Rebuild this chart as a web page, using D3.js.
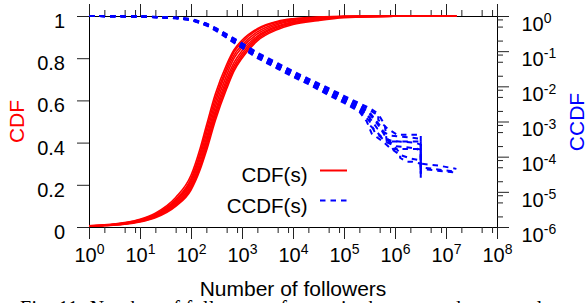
<!DOCTYPE html>
<html><head><meta charset="utf-8">
<script src="https://cdn.jsdelivr.net/npm/d3@7"></script>
<style>
body{margin:0;background:#fff;}
text{font-family:"Liberation Sans",Arial,Helvetica,sans-serif;}
.cap{font-family:"Liberation Serif","Times New Roman",serif;}
</style>
</head><body>
<svg id="c" width="585" height="303"></svg>
<script>
// ---------- tick labels ----------
const xMajor = [1, 1e1, 1e2, 1e3, 1e4, 1e5, 1e6, 1e7, 1e8];
const xMajorExp = ["0", "1", "2", "3", "4", "5", "6", "7", "8"];
const yLeftTicks = [0, 0.2, 0.4, 0.6, 0.8, 1];
const yLeftLabels = ["0", "0.2", "0.4", "0.6", "0.8", "1"];
const yRightMajor = [1, 1e-1, 1e-2, 1e-3, 1e-4, 1e-5, 1e-6];
const yRightExp = ["0", "-1", "-2", "-3", "-4", "-5", "-6"];
const minorMultipliers = [2, 5, 8];
const legendLabels = ["CDF(s)", "CCDF(s)"];

// ---------- CDF series (red) ----------
const cdfFollowers = [1, 2, 5, 10, 20, 50, 100, 150, 200, 300, 500, 700, 1000, 2000, 5000, 1e4, 3e4, 1e5, 1e6, 1.6e7];
const cdfSeries = [
  [0.006, 0.010, 0.021, 0.037, 0.066, 0.140, 0.245, 0.370, 0.480, 0.630, 0.770, 0.840, 0.885, 0.940, 0.975, 0.987, 0.995, 0.998, 0.9997, 1],
  [0.006, 0.009, 0.019, 0.034, 0.061, 0.130, 0.230, 0.350, 0.460, 0.610, 0.755, 0.830, 0.875, 0.935, 0.972, 0.985, 0.994, 0.998, 0.9996, 1],
  [0.005, 0.009, 0.018, 0.032, 0.058, 0.125, 0.220, 0.335, 0.440, 0.590, 0.740, 0.815, 0.862, 0.925, 0.966, 0.982, 0.992, 0.997, 0.9995, 1],
  [0.005, 0.008, 0.017, 0.030, 0.055, 0.120, 0.210, 0.320, 0.420, 0.570, 0.720, 0.800, 0.850, 0.915, 0.960, 0.978, 0.990, 0.997, 0.9995, 1],
  [0.005, 0.008, 0.016, 0.029, 0.052, 0.114, 0.200, 0.305, 0.405, 0.550, 0.700, 0.780, 0.835, 0.905, 0.953, 0.973, 0.987, 0.996, 0.9994, 1],
  [0.004, 0.007, 0.015, 0.027, 0.049, 0.108, 0.190, 0.290, 0.390, 0.535, 0.685, 0.765, 0.822, 0.898, 0.948, 0.969, 0.985, 0.995, 0.9993, 1],
  [0.004, 0.007, 0.014, 0.026, 0.047, 0.103, 0.182, 0.280, 0.375, 0.520, 0.670, 0.752, 0.810, 0.890, 0.942, 0.965, 0.982, 0.994, 0.9992, 1],
  [0.004, 0.006, 0.013, 0.024, 0.044, 0.098, 0.175, 0.270, 0.360, 0.505, 0.655, 0.740, 0.800, 0.882, 0.936, 0.960, 0.978, 0.992, 0.999, 1]
];

// ---------- CCDF series (blue, dashed) ----------
const ccdfFollowers = [1, 10, 50, 100, 200, 316, 600, 1000, 2000, 5000, 1e4, 2e4, 5e4, 1e5, 2e5];
const ccdfBulk = [
  [1, .977, .902, .822, .617, .447, .263, .170, .0912, .0457, .0269, .0166, .00891, .00537, .00331],
  [1, .975, .895, .814, .604, .435, .252, .162, .0863, .0433, .0255, .0157, .00832, .00501, .00305],
  [1, .973, .889, .805, .592, .423, .242, .154, .0817, .0409, .0241, .0149, .00776, .00468, .00281],
  [1, .971, .884, .798, .581, .413, .234, .148, .0780, .0391, .0230, .0142, .00733, .00442, .00262],
  [1, .969, .878, .790, .569, .402, .224, .141, .0738, .0370, .0218, .0134, .00684, .00412, .00241],
  [1, .968, .873, .783, .560, .393, .217, .136, .0705, .0353, .0208, .0128, .00646, .00389, .00225],
  [1, .966, .867, .775, .548, .382, .208, .129, .0667, .0334, .0197, .0121, .00603, .00363, .00207],
  [1, .964, .861, .767, .537, .372, .200, .123, .0631, .0316, .0186, .0115, .00562, .00339, .00191]
];
const ccdfTails = [
  [[3.2e5, 2.4e-3], [4.7e5, 1.66e-3], [4.7e5, 1.12e-3], [7.1e5, 6.3e-4], [1.1e6, 4.2e-4], [3.2e6, 4.2e-4], [3.2e6, 2.5e-5]],
  [[3.2e5, 2.1e-3], [5e5, 1.4e-3], [6.3e5, 8e-4], [6.9e5, 2.7e-4], [3.2e6, 2.7e-4], [3.2e6, 6.3e-5], [7.1e6, 5.6e-5], [1.6e7, 4.5e-5]],
  [[3.2e5, 1.8e-3], [5e5, 7.9e-4], [9.1e5, 1.66e-4], [2.7e6, 1.66e-4], [3.2e6, 1.26e-4], [3.2e6, 4.5e-5], [1.6e7, 3.5e-5]],
  [[3.2e5, 1.6e-3], [4.7e5, 7.9e-4], [6.3e5, 4e-4], [1.26e6, 1.26e-4], [1.26e6, 9.3e-5], [1.7e6, 7.2e-5], [2.2e6, 7.2e-5], [3.2e6, 6.3e-5], [3.2e6, 3.2e-5]],
  [[2.8e5, 1.6e-3], [3.2e5, 1.26e-3], [3.2e5, 7.9e-4], [5.6e5, 3.5e-4], [8.9e5, 2.8e-4], [2.5e6, 2.5e-4], [3.2e6, 2.2e-4], [3.2e6, 5e-5], [1.4e7, 3.8e-5]],
  [[3.2e5, 1.26e-3], [4.5e5, 6.3e-4], [7.9e5, 4e-4], [2e6, 3.5e-4], [3.2e6, 3.2e-4], [3.2e6, 4e-5]],
  [[3.2e5, 1e-3], [4e5, 5e-4], [7.1e5, 2.5e-4], [1e6, 2e-4], [2e6, 1.8e-4], [3.2e6, 1.6e-4], [3.2e6, 3.2e-5]],
  [[2.8e5, 1e-3], [3.5e5, 4.5e-4], [5.6e5, 2.8e-4], [7.9e5, 1.8e-4], [1.26e6, 1.12e-4], [2e6, 8.9e-5], [3.2e6, 7.9e-5], [3.2e6, 2.5e-5]]
];

// ---------- layout ----------
const L = 89, R = 497, T = 16, B = 227;
const svg = d3.select("#c");
const x = d3.scaleLog().domain([1, 1e8]).range([L, R]);
const yL = d3.scaleLinear().domain([0, 1]).range([B, T]);
const yR = d3.scaleLog().domain([1e-6, 1]).range([B, T]);

const xMinor = [];
xMajor.slice(0, -1).forEach(d => minorMultipliers.forEach(m => xMinor.push(d * m)));
const yMinor = [];
yRightMajor.slice(1).forEach(d => minorMultipliers.forEach(m => yMinor.push(d * m)));

function styleAxis(g, keepDomain) {
  g.selectAll("text").remove();
  if (!keepDomain) g.select(".domain").remove();
  g.select(".domain").attr("stroke", "#000").attr("stroke-width", 1);
  g.selectAll(".tick line").attr("stroke", "#222").attr("stroke-width", 1);
}
// bottom
svg.append("g").attr("transform", `translate(0,${B})`)
  .call(d3.axisBottom(x).tickValues(xMajor).tickSize(12).tickSizeOuter(0).tickFormat(""))
  .call(g => styleAxis(g, true));
svg.append("g").attr("transform", `translate(0,${B})`)
  .call(d3.axisBottom(x).tickValues(xMinor).tickSize(6).tickSizeOuter(0).tickFormat(""))
  .call(g => styleAxis(g, false));
// top
svg.append("g").attr("transform", `translate(0,${T})`)
  .call(d3.axisTop(x).tickValues(xMajor).tickSize(12).tickSizeOuter(0).tickFormat(""))
  .call(g => styleAxis(g, true));
svg.append("g").attr("transform", `translate(0,${T})`)
  .call(d3.axisTop(x).tickValues(xMinor).tickSize(6).tickSizeOuter(0).tickFormat(""))
  .call(g => styleAxis(g, false));
// left
svg.append("g").attr("transform", `translate(${L},0)`)
  .call(d3.axisLeft(yL).tickValues(yLeftTicks).tickSize(12).tickSizeOuter(0).tickFormat(""))
  .call(g => styleAxis(g, true));
// right
svg.append("g").attr("transform", `translate(${R},0)`)
  .call(d3.axisRight(yR).tickValues(yRightMajor).tickSize(12).tickSizeOuter(0).tickFormat(""))
  .call(g => styleAxis(g, true));
svg.append("g").attr("transform", `translate(${R},0)`)
  .call(d3.axisRight(yR).tickValues(yMinor).tickSize(6).tickSizeOuter(0).tickFormat(""))
  .call(g => styleAxis(g, false));

// tick labels
const fs = 20, sfs = 14;
xMajor.forEach((v, i) => {
  const t = svg.append("text").attr("x", x(v) + 0.5).attr("y", B + 34.7)
    .attr("text-anchor", "middle").attr("font-size", fs).attr("fill", "#000");
  t.append("tspan").text("10");
  t.append("tspan").attr("dy", -7.6).attr("font-size", sfs).text(xMajorExp[i]);
});
yLeftTicks.forEach((v, i) => {
  svg.append("text").attr("x", 65).attr("y", yL(v) + 12)
    .attr("text-anchor", "end").attr("font-size", fs).attr("fill", "#000").text(yLeftLabels[i]);
});
yRightMajor.forEach((v, i) => {
  const t = svg.append("text").attr("x", 521.5).attr("y", yR(v) + 14.8)
    .attr("text-anchor", "start").attr("font-size", fs).attr("fill", "#000");
  t.append("tspan").text("10");
  t.append("tspan").attr("dy", -7.6).attr("font-size", sfs).text(yRightExp[i]);
});

// axis titles
svg.append("text").attr("x", 293).attr("y", 295.5).attr("text-anchor", "middle")
  .attr("font-size", 21).attr("fill", "#000").text("Number of followers");
svg.append("text").attr("transform", "translate(24,121.5) rotate(-90)").attr("text-anchor", "middle")
  .attr("font-size", 21).attr("fill", "#ff0000").text("CDF");
svg.append("text").attr("transform", "translate(584,122) rotate(-90)").attr("text-anchor", "middle")
  .attr("font-size", 21).attr("fill", "#0000ff").text("CCDF");

// caption (cut off at bottom, as in the reference)
svg.append("text").attr("class", "cap").attr("x", 20).attr("y", 314.5)
  .attr("font-size", 20).attr("fill", "#000")
  .attr("textLength", 545).attr("lengthAdjust", "spacing")
  .text("Fig. 11:  Number of followers of users in the ten random samples.");

// lines
const plot = svg.append("g");
const cdfLine = d3.line().x(d => x(d[0])).y(d => yL(d[1])).curve(d3.curveMonotoneX);
cdfSeries.forEach(s => {
  const pts = cdfFollowers.map((f, i) => [f, s[i]]);
  plot.append("path").attr("d", cdfLine(pts)).attr("fill", "none")
    .attr("stroke", "#ff0000").attr("stroke-width", 1.6);
});
const ccdfLine = d3.line().x(d => x(d[0])).y(d => yR(d[1]));
ccdfBulk.forEach((s, k) => {
  const pts = ccdfFollowers.map((f, i) => [f, s[i]]).concat(ccdfTails[k]);
  plot.append("path").attr("d", ccdfLine(pts)).attr("fill", "none")
    .attr("stroke", "#0000ff").attr("stroke-width", 2)
    .attr("stroke-dasharray", "5.5,5");
});

// legend
const legY = [170.5, 200.5];
const legTextY = [181.5, 212.5];
svg.append("text").attr("x", 307.5).attr("y", legTextY[0]).attr("text-anchor", "end")
  .attr("font-size", 20.5).attr("fill", "#000").text(legendLabels[0]);
svg.append("line").attr("x1", 320).attr("x2", 347).attr("y1", legY[0]).attr("y2", legY[0])
  .attr("stroke", "#ff0000").attr("stroke-width", 2);
svg.append("text").attr("x", 307.5).attr("y", legTextY[1]).attr("text-anchor", "end")
  .attr("font-size", 20.5).attr("fill", "#000").text(legendLabels[1]);
svg.append("line").attr("x1", 320).attr("x2", 347).attr("y1", legY[1]).attr("y2", legY[1])
  .attr("stroke", "#0000ff").attr("stroke-width", 2).attr("stroke-dasharray", "5.5,5");
</script>
</body></html>
